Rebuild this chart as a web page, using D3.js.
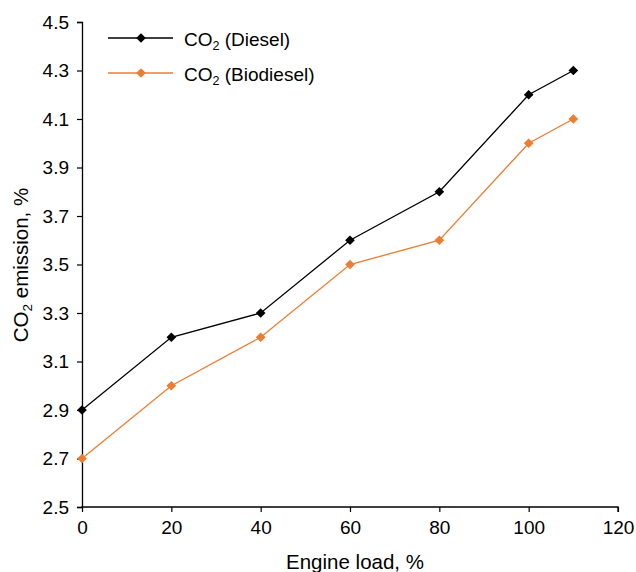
<!DOCTYPE html>
<html>
<head>
<meta charset="utf-8">
<script src="https://cdn.jsdelivr.net/npm/d3@7"></script>
<style>
  body { margin: 0; background: #fff; }
  text { font-family: "Liberation Sans", Arial, sans-serif; fill: #000; }
</style>
</head>
<body>
<div id="chart"></div>
<script>
// data
const loads = [0, 20, 40, 60, 80, 100, 110]
const diesel = [2.9, 3.2, 3.3, 3.6, 3.8, 4.2, 4.3]
const biodiesel = [2.7, 3.0, 3.2, 3.5, 3.6, 4.0, 4.1]
const xTicks = [0, 20, 40, 60, 80, 100, 120]
const yTicks = [2.5, 2.7, 2.9, 3.1, 3.3, 3.5, 3.7, 3.9, 4.1, 4.3, 4.5]

const series = [
  { name: 'Diesel', values: diesel, color: '#000000' },
  { name: 'Biodiesel', values: biodiesel, color: '#ED7D31' }
]

const width = 636
const height = 572
const margin = { top: 22, right: 18, bottom: 65, left: 82 }

const svg = d3.select('#chart').append('svg')
  .attr('width', width)
  .attr('height', height)

const x = d3.scaleLinear().domain([0, 120]).range([margin.left, width - margin.right])
const y = d3.scaleLinear().domain([2.5, 4.5]).range([height - margin.bottom, margin.top])

// axes
const xAxis = svg.append('g')
  .attr('transform', `translate(0,${y(2.5)})`)
  .call(d3.axisBottom(x).tickValues(xTicks).tickSize(5).tickPadding(9).tickFormat(d3.format('d')))
const yAxis = svg.append('g')
  .attr('transform', `translate(${x(0)},0)`)
  .call(d3.axisLeft(y).tickValues(yTicks).tickSize(5).tickPadding(8).tickFormat(d3.format('.1f')))

for (const ax of [xAxis, yAxis]) {
  ax.select('.domain').attr('stroke', '#000').attr('stroke-width', 1.3)
  ax.selectAll('.tick line').attr('stroke', '#000').attr('stroke-width', 1.2)
  ax.selectAll('.tick text').style('font-size', '19px').attr('fill', '#000')
}
xAxis.selectAll('.domain').attr('d', `M${x(0)},0.5V0H${x(120)}V5`)

// axis titles
svg.append('text')
  .attr('x', 355).attr('y', 569)
  .attr('text-anchor', 'middle')
  .style('font-size', '20.5px')
  .text('Engine load, %')

const yTitle = svg.append('text')
  .attr('transform', 'translate(28,265) rotate(-90)')
  .attr('text-anchor', 'middle')
  .style('font-size', '20.5px')
yTitle.append('tspan').text('CO')
yTitle.append('tspan').attr('dy', 4).style('font-size', '13.5px').text('2')
yTitle.append('tspan').attr('dy', -4).text(' emission, %')

// lines and markers
const line = d3.line().x((d, i) => x(loads[i])).y(d => y(d))
const diamond = d3.symbol().type(d3.symbolDiamond2).size(60)

series.forEach(s => {
  svg.append('path')
    .attr('d', line(s.values))
    .attr('fill', 'none')
    .attr('stroke', s.color)
    .attr('stroke-width', 1.3)

  svg.selectAll(null)
    .data(s.values)
    .enter().append('path')
    .attr('d', diamond)
    .attr('transform', (d, i) => `translate(${x(loads[i])},${y(d)})`)
    .attr('fill', s.color)
})

// legend
const legend = svg.append('g')
series.forEach((s, i) => {
  const ly = 38 + i * 35
  legend.append('line')
    .attr('x1', 108).attr('x2', 173)
    .attr('y1', ly).attr('y2', ly)
    .attr('stroke', s.color).attr('stroke-width', 1.3)
  legend.append('path')
    .attr('d', diamond)
    .attr('transform', `translate(141,${ly})`)
    .attr('fill', s.color)
  const t = legend.append('text')
    .attr('x', 184).attr('y', ly + 8)
    .style('font-size', '19px')
  t.append('tspan').text('CO')
  t.append('tspan').attr('dy', 4).style('font-size', '12.5px').text('2')
  t.append('tspan').attr('dy', -4).text(` (${s.name})`)
})
</script>
</body>
</html>
